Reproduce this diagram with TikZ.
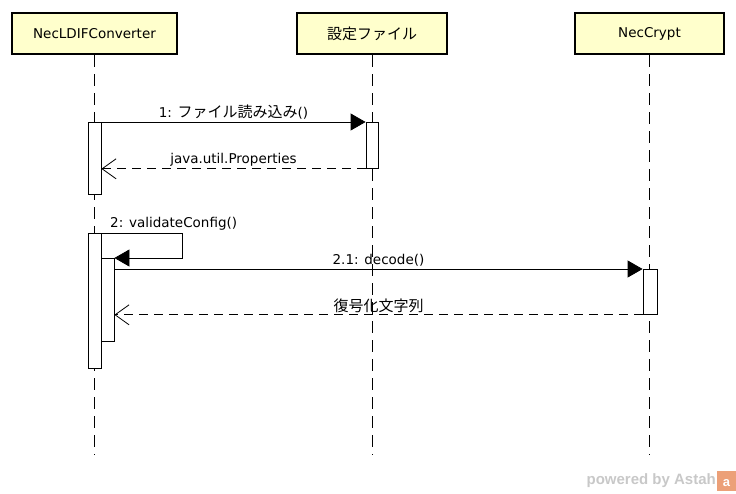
\documentclass[tikz,border=0pt]{standalone}
\usepackage{fontspec}
\setmainfont{DejaVu Sans}
\newfontfamily\jp{Noto Sans CJK JP}
\newfontfamily\wmfont{Liberation Sans}
\usetikzlibrary{arrows.meta}
\usetikzlibrary{positioning}
\definecolor{headfill}{RGB}{255,255,204}
\definecolor{wmgray}{RGB}{200,200,200}
\definecolor{wmorange}{RGB}{236,160,120}

\newcommand{\jtext}[1]{{\jp\fontsize{15}{17}\selectfont #1}}

\tikzset{
  head/.style={draw, line width=2.2pt, fill=headfill, minimum height=41pt, inner sep=0pt, font=\fontsize{13.5}{16}\selectfont},
  lifeline/.style={dash pattern=on 12pt off 7pt, line width=0.8pt},
  activation/.style={draw, fill=white, line width=0.8pt, minimum width=13pt, inner sep=0pt, anchor=north},
  callmsg/.style={-{Triangle[length=15pt,width=17pt]}, line width=0.8pt},
  retmsg/.style={-{Straight Barb[length=14pt,width=20pt]}, dash pattern=on 9pt off 6pt, line width=0.8pt},
  msglabel/.style={font=\fontsize{13.5}{16}\selectfont, inner sep=2pt, anchor=south}
}

\begin{document}
\begin{tikzpicture}[x=1pt, y=-1pt]
  \useasboundingbox (0,0) rectangle (736,493);

  \def\lineend{455}

  % lifeline heads
  \node[head, minimum width=165pt] (conv) at (94.5,33.5) {NecLDIFConverter};
  \node[head, minimum width=150pt] (cfg) at (372,33.5) {\jtext{設定ファイル}};
  \node[head, minimum width=149pt] (crypt) at (649.5,33.5) {NecCrypt};

  % lifelines
  \draw[lifeline] (conv.south) -- (94.5,\lineend);
  \draw[lifeline] (cfg.south) -- (372,\lineend);
  \draw[lifeline] (crypt.south) -- (649.5,\lineend);

  % activations
  \node[activation, minimum height=72pt] (act1) at (94.5,122) {};
  \node[activation, minimum width=12pt, minimum height=46pt] (act2) at (372,122) {};
  \node[activation, minimum height=135pt] (act3) at (94.5,233) {};
  \node[activation, minimum height=83pt] (act4) at (107.5,258) {};
  \node[activation, minimum width=14pt, minimum height=45pt] (act5) at (650,269) {};

  % 1: read the file
  \draw[callmsg] (act1.north east) -- node[msglabel] {1: \jtext{ファイル読み込み}()} (act2.north west);
  \draw[retmsg] (act2.south west) -- node[msglabel] {java.util.Properties} (act1.east |- act2.south);

  % 2: self call
  \coordinate (loop) at (182,233);
  \draw[callmsg] (act3.north east) -- (loop) |- (act4.north east);
  \node[msglabel, anchor=south west] (selflbl) at (108,233) {2: validateConfig()};

  % 2.1: decode
  \draw[callmsg] (act4.east |- act5.north) -- node[msglabel] {2.1: decode()} (act5.north west);
  \draw[retmsg] (act5.south west) -- node[msglabel] {\jtext{復号化文字列}} (act4.east |- act5.south);

  % watermark
  \node[text=wmgray, font=\wmfont\bfseries\fontsize{15}{17}\selectfont, anchor=east, inner sep=0pt] (wm) at (716,481) {powered by Astah};
  \fill[wmorange] (717,471) rectangle (736,491);
  \node[text=white, font=\wmfont\bfseries\fontsize{13}{14}\selectfont, inner sep=0pt] (wmlogo) at (726.5,483) {a};
\end{tikzpicture}
\end{document}
